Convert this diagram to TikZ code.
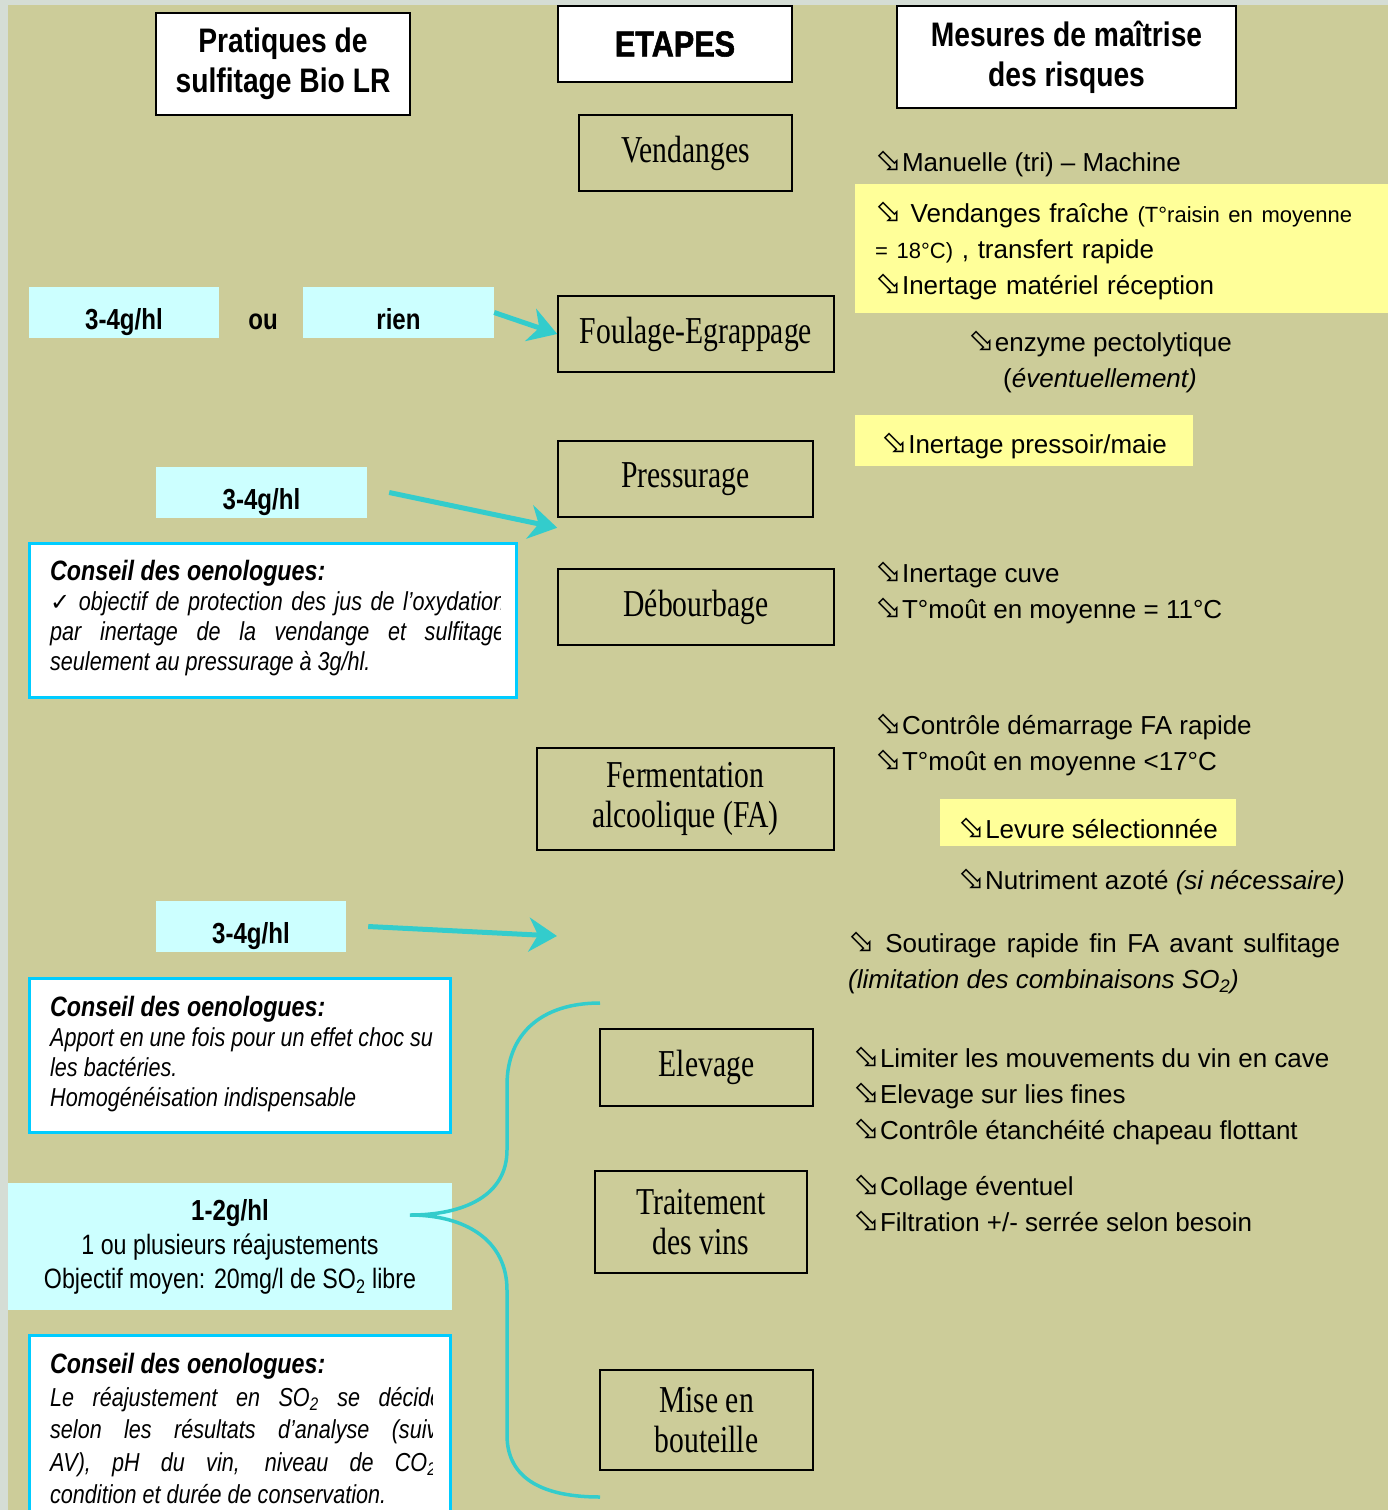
\documentclass[tikz,border=0pt]{standalone}
\usepackage{fontspec}
\setmainfont{Liberation Sans}
\newfontfamily\etroitfont{Liberation Sans}[FakeStretch=0.83]
\newfontfamily\etapefont{Liberation Serif}[FakeStretch=0.78]
\newfontfamily\symbfont{DejaVu Sans}
\newfontfamily\titrefont{Liberation Sans}[FakeStretch=0.85,BoldFeatures={FakeBold=1.5}]
\usetikzlibrary{arrows.meta}

\definecolor{kaki}{HTML}{CCCC99}
\definecolor{marge}{HTML}{D5DDD5}
\definecolor{cyanclair}{HTML}{CCFFFF}
\definecolor{jauneclair}{HTML}{FFFF99}
\definecolor{bordcyan}{HTML}{00CCFF}
\definecolor{flechecyan}{HTML}{33CCCC}

\newcommand\puce{{\symbfont\fontsize{32}{32}\selectfont ⬂}}

\tikzset{
    etape/.style={draw, line width=1.5pt, font=\etapefont\fontsize{38}{40}\selectfont, align=center, inner sep=0pt},
    entete/.style={draw, fill=white, line width=1.5pt, font=\etroitfont\bfseries\fontsize{34}{40}\selectfont, align=center, inner sep=0pt},
    dose/.style={fill=cyanclair, font=\etroitfont\bfseries\fontsize{29}{34}\selectfont, align=center, inner sep=0pt},
    dosecourte/.style={dose, text height=33pt, text depth=0pt},
    conseil/.style={draw=bordcyan, fill=white, line width=3pt, inner sep=0pt},
    conseiltxt/.style={font=\etroitfont\itshape\fontsize{26}{30}\selectfont, align=left, inner sep=0pt, anchor=north west},
    jaune/.style={fill=jauneclair, font=\fontsize{26}{36}\selectfont, align=left, anchor=north west, inner xsep=20pt, inner ysep=0pt},
    mesure/.style={font=\fontsize{26}{36}\selectfont, align=left, anchor=north west, inner sep=0pt},
    fleche/.style={-{Stealth[length=28pt,width=34pt,inset=9pt]}, draw=flechecyan, line width=5pt},
    accolade/.style={draw=flechecyan, line width=3.5pt}
}

\begin{document}
\begin{tikzpicture}[x=1pt, y=-1pt]
% fond
\fill[marge] (0,0) rectangle (1388,1510);
\fill[kaki] (8,5) rectangle (1388,1510);
\useasboundingbox (0,0) rectangle (1388,1510);

% titres des colonnes
\node[entete, minimum width=254pt, minimum height=102pt] (pratiques) at (283,64) {Pratiques de\\sulfitage Bio LR};
\node[entete, font=\titrefont\bfseries\fontsize{36}{40}\selectfont, minimum width=234pt, minimum height=76pt] (etapes) at (675,44) {ETAPES};
\node[entete, minimum width=339pt, minimum height=102pt] (mesures) at (1066.5,57) {Mesures de maîtrise\\des risques};

% etapes
\node[etape, minimum width=213pt, minimum height=76pt] (vendanges) at (685.5,153) {Vendanges};
\node[etape, minimum width=276pt, minimum height=76pt] (foulage) at (696,334) {Foulage-Egrappage};
\node[etape, minimum width=255pt, minimum height=76pt] (pressurage) at (685.5,479) {Pressurage};
\node[etape, minimum width=276pt, minimum height=76pt] (debourbage) at (696,607) {Débourbage};
\node[etape, minimum width=297pt, minimum height=102pt] (fermentation) at (685.5,799) {Fermentation\\alcoolique (FA)};
\node[etape, minimum width=213pt, minimum height=77pt] (elevage) at (706.5,1067.5) {Elevage};
\node[etape, minimum width=212pt, minimum height=102pt] (traitement) at (701,1222) {Traitement\\des vins};
\node[etape, minimum width=213pt, minimum height=100pt] (mise) at (706.5,1420) {Mise en\\bouteille};

% sulfitage
\node[dosecourte, minimum width=190pt, minimum height=51pt] (dose1) at (124,312.5) {3-4g/hl};
\node[font=\etroitfont\bfseries\fontsize{29}{34}\selectfont, inner sep=0pt, text height=33pt, text depth=0pt] (ou) at (263,312.5) {ou};
\node[dosecourte, minimum width=191pt, minimum height=51pt] (rien) at (398.5,312.5) {rien};
\draw[fleche] (rien.east) -- (foulage.west);

\node[dosecourte, minimum width=211pt, minimum height=51pt] (dose2) at (261.5,492.5) {3-4g/hl};
\draw[fleche] ([xshift=22pt]dose2.east) -- ([yshift=-10pt]pressurage.south west);

\node[conseil, minimum width=487pt, minimum height=154pt] (conseil1) at (272.5,620) {};
\begin{scope}
  \clip (40,546) rectangle (500,694);
  \node[conseiltxt] (conseil1txt) at (50,560) {{\bfseries\fontsize{28}{30}\selectfont Conseil des oenologues:}\\
    \makebox[455pt][s]{{\symbfont\fontsize{24}{24}\selectfont ✓} objectif de protection des jus de l’oxydation}\\
    \makebox[455pt][s]{par inertage de la vendange et sulfitage}\\
    seulement au pressurage à 3g/hl.};
\end{scope}

\node[dosecourte, minimum width=190pt, minimum height=51pt] (dose3) at (251,926.5) {3-4g/hl};
\coordinate (cible) at (557,936);
\draw[fleche] ([xshift=22pt]dose3.east) -- (cible);

\node[conseil, minimum width=421pt, minimum height=154pt] (conseil2) at (239.5,1055) {};
\begin{scope}
  \clip (40,981) rectangle (432,1129);
  \node[conseiltxt] (conseil2txt) at (50,996) {{\bfseries\fontsize{28}{30}\selectfont Conseil des oenologues:}\\
    Apport en une fois pour un effet choc sur\\
    les bactéries.\\
    Homogénéisation indispensable};
\end{scope}

\node[dose, minimum width=444pt, minimum height=127pt, font=\etroitfont\fontsize{28}{34}\selectfont] (dose4) at (230,1246.5)
  {{\bfseries\fontsize{29}{34}\selectfont 1-2g/hl}\\1 ou plusieurs réajustements\\Objectif moyen: 20mg/l de SO\textsubscript{2} libre};

\node[conseil, minimum width=421pt, minimum height=200pt] (conseil3) at (239.5,1435) {};
\begin{scope}
  \clip (40,1338) rectangle (432,1530);
  \node[conseiltxt, font=\etroitfont\itshape\fontsize{26}{32.5}\selectfont] (conseil3txt) at (50,1353) {{\bfseries\fontsize{28}{32.5}\selectfont Conseil des oenologues:}\\
    \makebox[392pt][s]{Le réajustement en SO\textsubscript{2} se décide}\\
    \makebox[392pt][s]{selon les résultats d’analyse (suivi}\\
    \makebox[392pt][s]{AV), pH du vin, niveau de CO\textsubscript{2},}\\
    condition et durée de conservation.};
\end{scope}

% accolade
\coordinate (acchaut) at (600,1003);
\coordinate (accpointe) at (410,1215);
\coordinate (accbas) at (600,1497);
\draw[accolade] (acchaut) .. controls (540,1003) and (507,1035) .. (507,1085) -- (507,1150)
  .. controls (507,1195) and (465,1215) .. (accpointe)
  .. controls (465,1215) and (507,1240) .. (507,1290) -- (507,1435)
  .. controls (507,1480) and (545,1497) .. (accbas);

% mesures de maitrise
\node[mesure] (manuelle) at (875,146) {\strut\puce Manuelle (tri) – Machine};
\node[jaune, text width=495pt, minimum height=129pt] (fraiche) at (855,184)
  {\strut\puce\ Vendanges fraîche {\fontsize{22}{36}\selectfont(T°raisin en moyenne}\\{\fontsize{22}{36}\selectfont= 18°C)} , transfert rapide\\\puce Inertage matériel réception};
\node[mesure, align=center, anchor=north] (enzyme) at (1100,326) {\strut\puce enzyme pectolytique\\(\textit{éventuellement)}};
\node[jaune, minimum width=338pt, minimum height=51pt, text height=25pt, text depth=0pt] (pressoir) at (855,415) {\puce Inertage pressoir/maie};
\node[mesure] (cuve) at (875,557) {\strut\puce Inertage cuve\\\puce T°moût en moyenne = 11°C};
\node[mesure] (demarrage) at (875,709) {\strut\puce Contrôle démarrage FA rapide\\\puce T°moût en moyenne <17°C};
\node[jaune, inner xsep=0pt, minimum width=296pt, minimum height=47pt, text height=31pt, text depth=0pt] (levure) at (940,799) {\puce Levure sélectionnée};
\node[mesure] (azote) at (958,864) {\strut\puce Nutriment azoté \textit{(si nécessaire)}};
\node[mesure] (soutirage) at (848,927) {\strut\makebox[492pt][s]{\puce\ Soutirage rapide fin FA avant sulfitage}\\\textit{(limitation des combinaisons SO\textsubscript{2})}};
\node[mesure] (lies) at (853,1042) {\strut\puce Limiter les mouvements du vin en cave\\\puce Elevage sur lies fines\\\puce Contrôle étanchéité chapeau flottant};
\node[mesure] (collage) at (853,1170) {\strut\puce Collage éventuel\\\puce Filtration +/- serrée selon besoin};
\end{tikzpicture}
\end{document}
